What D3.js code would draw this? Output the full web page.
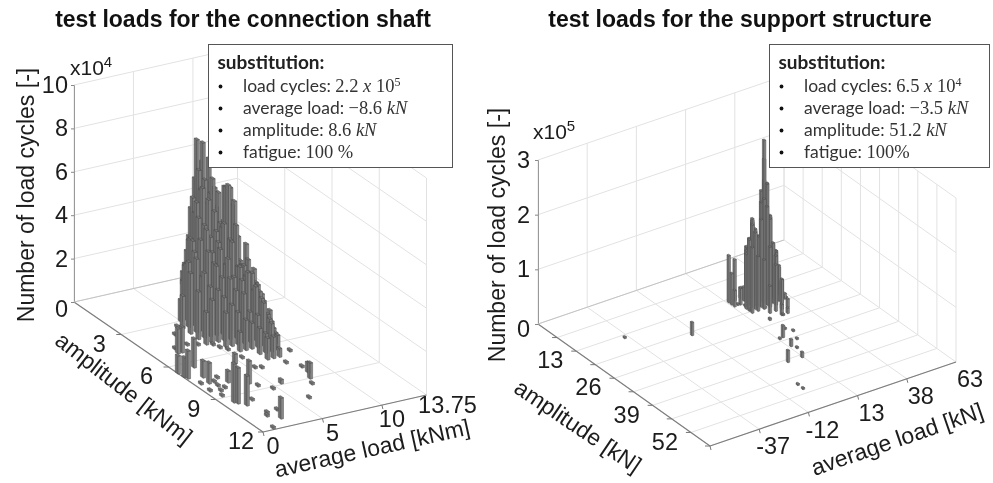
<!DOCTYPE html>
<html>
<head>
<meta charset="utf-8">
<script src="https://cdn.jsdelivr.net/npm/d3@7/dist/d3.min.js"></script>
<style>
    html, body { margin: 0; padding: 0; background: #fff; }
    svg { display: block; filter: blur(0.5px); }
    text { font-family: "Liberation Sans", Arial, sans-serif; fill: #1c1c1c; }
    .title { font-size: 23px; font-weight: bold; fill: #111; }
    .label { font-size: 23px; }
    .tick-label { font-size: 23.5px; }
    .legend-text { font-family: Lato, sans-serif; font-size: 17.5px; fill: #333; }
    .legend-head { font-family: Lato, sans-serif; font-size: 19px; font-weight: bold; fill: #222; }
    .math { font-family: "Liberation Serif", serif; font-size: 18.5px; }
</style>
</head>
<body>
<div id="chart"></div>
<script>
// connection shaft: cycles in x10^4, rows = amplitude [kNm], columns = average load [kNm]
const shaftAmplitudes = [0.5, 1, 1.5, 2, 2.5, 3, 3.5, 4, 4.5, 5, 5.5, 6, 6.5, 7];
const shaftLoads = [4.5, 5, 5.5, 6, 6.5, 7, 7.5, 8, 8.5, 9, 9.5, 10, 10.5];
const shaftCycles = [
    [0, 0, 0, 0, 0, 0, 0, 0, 0.6, 2.2, 4.8, 5.5, 4.5],
    [0, 0, 0, 0, 0, 0, 0, 1.3, 3.8, 6.9, 6.7, 5.9, 4.5],
    [0, 0, 0, 0, 0, 0, 2.2, 4.6, 5.8, 5.3, 4.6, 3.9, 3.2],
    [0, 0, 0, 0, 1.2, 3.0, 4.2, 5.2, 4.5, 5.6, 4.9, 5.1, 5.0],
    [0, 0, 0, 2.2, 3.4, 5.0, 5.6, 5.0, 4.4, 3.8, 5.4, 4.5, 3.0],
    [0, 1.0, 2.6, 3.6, 4.6, 4.2, 3.6, 3.8, 3.9, 5.8, 5.0, 2.2, 2.9],
    [1.5, 3.0, 3.4, 3.9, 4.3, 3.2, 3.6, 4.4, 3.6, 4.2, 2.3, 2.5, 2.0],
    [2.8, 3.4, 2.5, 3.6, 3.0, 3.6, 2.8, 3.8, 2.6, 2.6, 2.2, 1.7, 1.1],
    [2.2, 3.0, 2.3, 3.2, 2.6, 3.4, 2.5, 2.9, 2.4, 2.5, 1.9, 1.1, 0.6],
    [1.5, 2.0, 2.4, 2.0, 2.8, 2.2, 2.6, 2.9, 2.0, 1.9, 0.8, 0.4, 0],
    [0, 0, 1.6, 1.9, 1.5, 2.3, 1.4, 2.5, 1.9, 1.1, 0.4, 0, 0],
    [0, 0, 0, 0.9, 1.4, 1.2, 1.5, 2.0, 1.2, 0.5, 0, 0, 0],
    [0, 0, 0, 0, 0, 1.2, 0.9, 1.3, 0.7, 0, 0, 0, 0],
    [0, 0, 0, 0, 0, 1.0, 1.0, 0.4, 0, 0, 0, 0, 0]
];
// single bars away from the main block
const shaftSingleAmp = [5.17, 5.17, 6.56, 6.92, 7.07, 6.4, 7.24, 7.75, 7.98, 9.46, 9.59, 6.77, 9.87, 8.38, 8.99, 8.54, 11.31,
    3.88, 3.36, 4.85, 4.77, 4.94, 5.17, 5.48, 5.75, 6.53, 7.42, 7.53, 8.72, 9.61, 9.17, 8.88, 7.57, 6.79, 8.09, 9.43, 10.36, 10.74, 10.95, 10.69, 11.88, 7.69, 7.53, 7.76, 8.09, 8.32, 8.49, 8.34, 8.86];
const shaftSingleLoad = [1.89, 2.23, 0.05, 0.1, 0.22, 1.61, 1.26, 1.09, 2.38, 0.92, 1.08, 4.57, 1.46, 3.62, 7.94, 8.36, 2.42,
    3.35, 4.22, 2.07, 3.19, 3.88, 4.83, 5.01, 5.32, 5.48, 5.38, 5.82, 3.91, 2.24, 4.59, 5.64, 7.8, 9.15, 8.44, 7.52, 6.04, 2, 1.72, 2.9, 1, 0.49, 2.06, 1.5, 1.38, 0.41, 1.11, 1.64, 0.71];
const shaftSingleCycles = [1.15, 1.2, 0.83, 0.92, 1.29, 1.34, 0.78, 0.97, 0.55, 1.8, 1.66, 0.46, 1.38, 1.06, 0.74, 0.46, 0.97,
    0.1, 0.1, 0.1, 0.1, 0.1, 0.1, 0.1, 0.1, 0.1, 0.1, 0.1, 0.1, 0.1, 0.1, 0.2, 0.1, 0.1, 0.1, 0.1, 0.1, 0.1, 0.1, 0.1, 0.1, 0.1, 0.1, 0.1, 0.1, 0.1, 0.1, 0.1, 0.1];

// support structure: cycles in x10^5, rows = amplitude [kN], columns = average load [kN]
const supportAmplitudes = [12, 14, 15, 16, 17, 18, 19, 20, 22, 24];
const supportLoads = [14, 17, 20, 23, 26, 29, 32, 35, 38];
const supportCycles = [
    [0, 0, 0, 0, 0.8, 1.2, 0.9, 1.9, 1.2],
    [0.86, 0.75, 0.2, 0.9, 1.35, 1.0, 2.4, 1.3, 0.65],
    [0.57, 0, 0.25, 1.1, 1.2, 1.9, 2.0, 0.85, 0],
    [0.3, 0.3, 0.95, 1.5, 1.15, 2.86, 1.45, 0.77, 0.2],
    [0, 0, 1.2, 1.35, 1.8, 2.1, 0.95, 0.5, 0],
    [0, 1.0, 1.5, 1.25, 1.9, 1.5, 0.85, 0.3, 0],
    [0, 1.3, 1.4, 1.6, 1.8, 1.1, 0.65, 0.1, 0],
    [0, 1.2, 1.0, 0.9, 1.1, 0.9, 0.4, 0, 0],
    [0, 0, 0, 0.5, 0.85, 0.55, 0.15, 0, 0],
    [0, 0, 0, 0, 0.2, 0.1, 0, 0, 0]
];
const supportSingleAmp = [14.1, 20.6, 31.3, 30.5, 28.9, 31.6, 35.1, 33.5, 36.4, 39.9, 39.9, 48.4, 50.3, 24.3, 15.9, 17.1, 18.9, 18.4, 19.9, 24.2, 19];
const supportSingleLoad = [-39, -14.5, 15.7, 22.1, 20.3, 13.7, 14.2, 19.5, 15.2, 5.4, 12.6, -2.3, -2.5, 19.5, 15.8, 17.7, 17.5, 21.8, 23.6, 26.4, 35.6];
const supportSingleCycles = [0.03, 0.24, 0.22, 0.03, 0.03, 0.03, 0.13, 0.03, 0.03, 0.22, 0.1, 0.03, 0.03, 0.04, 0.03, 0.03, 0.03, 0.03, 0.03, 0.03, 0.03];

// tick labels
const shaftAmpTicks = [3, 6, 9, 12];
const shaftLoadTicks = [0, 5, 10, 13.75];
const shaftCycleTicks = [0, 2, 4, 6, 8, 10];
const supportAmpMinor = [6.5, 13, 19.5, 26, 32.5, 39, 45.5, 52, 58.5];
const supportAmpTicks = [13, 26, 39, 52];
const supportLoadTicks = [-37, -12, 13, 38, 63];
const supportCycleTicks = [0, 1, 2, 3];

// legend lines: [text, kind]  kind: "" plain, m math, i math italic, s superscript
const shaftLegend = [
    [["load cycles: ", ""], ["2.2 ", "m"], ["x", "i"], [" 10", "m"], ["5", "s"]],
    [["average load: ", ""], ["\u22128.6 ", "m"], ["kN", "i"]],
    [["amplitude: ", ""], ["8.6 ", "m"], ["kN", "i"]],
    [["fatigue: ", ""], ["100 %", "m"]]
];
const supportLegend = [
    [["load cycles: ", ""], ["6.5 ", "m"], ["x", "i"], [" 10", "m"], ["4", "s"]],
    [["average load: ", ""], ["\u22123.5 ", "m"], ["kN", "i"]],
    [["amplitude: ", ""], ["51.2 ", "m"], ["kN", "i"]],
    [["fatigue: ", ""], ["100%", "m"]]
];

const svg = d3.select("#chart").append("svg").attr("width", 993).attr("height", 483);

class BarVis {
    constructor(_svg, _config) {
        this.svg = _svg;
        this.cfg = _config;
        this.initVis();
    }

    initVis() {
        let vis = this;
        let c = vis.cfg;

        vis.g = vis.svg.append("g");

        // floor projection, one scale per screen direction
        vis.ampX = d3.scaleLinear().domain(c.ampDomain).range([0, c.front[0] - c.origin[0]]);
        vis.ampY = d3.scaleLinear().domain(c.ampDomain).range([0, c.front[1] - c.origin[1]]);
        vis.loadX = d3.scaleLinear().domain(c.loadDomain).range([0, c.back[0] - c.origin[0]]);
        vis.loadY = d3.scaleLinear().domain(c.loadDomain).range([0, c.back[1] - c.origin[1]]);
        vis.z = d3.scaleLinear().domain(c.zDomain).range([c.origin[1], c.origin[1] - c.zHeight]);

        vis.drawGrid();
        vis.drawAxes();
        vis.drawBars();
        vis.drawLegend();
    }

    project(a, l, zv) {
        let vis = this;
        return [
            vis.cfg.origin[0] + vis.ampX(a) + vis.loadX(l),
            vis.z(zv || 0) + vis.ampY(a) + vis.loadY(l)
        ];
    }

    drawGrid() {
        let vis = this;
        let c = vis.cfg;
        let [a0, a1] = c.ampDomain;
        let [l0, l1] = c.loadDomain;
        let [z0, z1] = c.zDomain;
        let segs = [];

        // floor
        c.ampGrid.forEach(a => segs.push([vis.project(a, l0), vis.project(a, l1)]));
        c.loadGrid.forEach(l => segs.push([vis.project(a0, l), vis.project(a1, l)]));
        // left wall (a = a0) and right wall (l = l1)
        c.loadGrid.concat([l1]).forEach(l => segs.push([vis.project(a0, l, z0), vis.project(a0, l, z1)]));
        c.ampGrid.concat([a0]).forEach(a => segs.push([vis.project(a, l1, z0), vis.project(a, l1, z1)]));
        c.zTicks.forEach(t => {
            segs.push([vis.project(a0, l0, t), vis.project(a0, l1, t)]);
            segs.push([vis.project(a0, l1, t), vis.project(a1, l1, t)]);
        });

        vis.g.append("g").selectAll("line").data(segs).join("line")
            .attr("x1", d => d[0][0]).attr("y1", d => d[0][1])
            .attr("x2", d => d[1][0]).attr("y2", d => d[1][1])
            .attr("stroke", "#e2e2e2").attr("stroke-width", 1);
    }

    drawBars() {
        let vis = this;
        let c = vis.cfg;
        let bars = [];

        c.rows.forEach((a, i) => c.cols.forEach((l, j) => {
            if (c.cycles[i][j] > 0) bars.push({a: a, l: l, v: c.cycles[i][j]});
        }));
        c.singleAmp.forEach((a, i) => bars.push({a: a, l: c.singleLoad[i], v: c.singleCycles[i]}));

        // back to front
        bars.sort((p, q) => (p.a - p.l * c.depthRatio) - (q.a - q.l * c.depthRatio));

        let poly = pts => "M" + pts.map(p => p.join(",")).join("L") + "Z";
        let wa = c.barHalf[0], wl = c.barHalf[1];

        let groups = vis.g.append("g").selectAll("g").data(bars).join("g")
            .attr("stroke", "#484848").attr("stroke-width", 0.45);

        // face on the low-load side
        groups.append("path").attr("fill", "#6f6f6f").attr("d", d => poly([
            vis.project(d.a - wa, d.l - wl, 0), vis.project(d.a + wa, d.l - wl, 0),
            vis.project(d.a + wa, d.l - wl, d.v), vis.project(d.a - wa, d.l - wl, d.v)]));
        // face on the high-amplitude side
        groups.append("path").attr("fill", "#878787").attr("d", d => poly([
            vis.project(d.a + wa, d.l - wl, 0), vis.project(d.a + wa, d.l + wl, 0),
            vis.project(d.a + wa, d.l + wl, d.v), vis.project(d.a + wa, d.l - wl, d.v)]));
        // top
        groups.append("path").attr("fill", "#777").attr("d", d => poly([
            vis.project(d.a - wa, d.l - wl, d.v), vis.project(d.a + wa, d.l - wl, d.v),
            vis.project(d.a + wa, d.l + wl, d.v), vis.project(d.a - wa, d.l + wl, d.v)]));
    }

    drawAxes() {
        let vis = this;
        let c = vis.cfg;
        let [a0, a1] = c.ampDomain;
        let [l0, l1] = c.loadDomain;

        // cycles axis
        let zAxis = d3.axisLeft(vis.z).tickValues(c.zTicks).tickSize(3).tickPadding(c.zPad).tickFormat(d3.format("d"));
        let zg = vis.g.append("g").attr("transform", `translate(${c.origin[0]},0)`).call(zAxis);
        zg.select(".domain").attr("stroke", "#999");
        zg.selectAll(".tick line").attr("stroke", "#888");
        zg.selectAll(".tick text")
            .attr("class", "tick-label")
            .attr("dy", d => d === 0 ? c.zeroShift : "0.32em");

        // the two floor axes
        let axes = [
            [vis.project(a0, l0), vis.project(a1, l0)],
            [vis.project(a1, l0), vis.project(a1, l1)]
        ];
        vis.g.append("g").selectAll("line").data(axes).join("line")
            .attr("x1", d => d[0][0]).attr("y1", d => d[0][1])
            .attr("x2", d => d[1][0]).attr("y2", d => d[1][1])
            .attr("stroke", "#7d7d7d").attr("stroke-width", 1.2);
        vis.g.append("line")
            .datum([vis.project(a0, l0), vis.project(a0, l1)])
            .attr("x1", d => d[0][0]).attr("y1", d => d[0][1])
            .attr("x2", d => d[1][0]).attr("y2", d => d[1][1])
            .attr("stroke", "#c4c4c4");

        // tick marks
        let marks = c.ampGrid.map(a => [vis.project(a, l0), -5, 0])
            .concat(c.loadGrid.map(l => [vis.project(a1, l), 1, 4]));
        vis.g.append("g").selectAll("line").data(marks).join("line")
            .attr("x1", d => d[0][0]).attr("y1", d => d[0][1])
            .attr("x2", d => d[0][0] + d[1]).attr("y2", d => d[0][1] + d[2])
            .attr("stroke", "#777");

        // tick labels
        let ampLabels = c.ampTicks.map(a => {
            let p = vis.project(a, l0);
            return {t: a, x: p[0] + c.ampOffset[0], y: p[1] + c.ampOffset[1]};
        });
        let loadLabels = c.loadTicks.map(l => {
            let p = vis.project(a1, l);
            let off = l === 13.75 ? [21, 10] : c.loadOffset;
            return {t: l, x: p[0] + off[0], y: p[1] + off[1]};
        });
        vis.g.append("g").selectAll("text").data(ampLabels.concat(loadLabels)).join("text")
            .attr("class", "tick-label")
            .attr("text-anchor", "middle")
            .attr("dy", "0.35em")
            .attr("x", d => d.x).attr("y", d => d.y)
            .text(d => d.t);

        // axis labels
        c.labels.forEach(d => {
            vis.g.append("text")
                .attr("class", "label")
                .attr("text-anchor", "middle")
                .attr("dy", "0.35em")
                .attr("transform", `translate(${d.x},${d.y}) rotate(${d.angle})`)
                .text(d.text);
        });

        // exponent
        let exp = vis.g.append("text").attr("class", "label")
            .attr("x", c.exp[0]).attr("y", c.exp[1]).style("font-size", "21px");
        exp.append("tspan").text("x10");
        exp.append("tspan").attr("dy", -8).style("font-size", "15px").text(c.expText);

        // title
        vis.g.append("text").attr("class", "title")
            .attr("text-anchor", "middle")
            .attr("x", c.titleX).attr("y", 27)
            .text(c.title);
    }

    drawLegend() {
        let vis = this;
        let c = vis.cfg;
        let b = c.box;
        let lg = vis.g.append("g");

        lg.append("rect")
            .attr("x", b[0]).attr("y", b[1]).attr("width", b[2]).attr("height", b[3])
            .attr("fill", "#fff").attr("stroke", "#555").attr("stroke-width", 1);

        lg.append("text").attr("class", "legend-head")
            .attr("x", b[0] + 9).attr("y", b[1] + 24)
            .text("substitution:");

        c.legend.forEach((line, i) => {
            let y = b[1] + 47 + i * 22;
            lg.append("circle").attr("cx", b[0] + 12).attr("cy", y - 5).attr("r", 1.9).attr("fill", "#111");
            let t = lg.append("text").attr("class", "legend-text").attr("x", b[0] + c.legendIndent).attr("y", y);
            line.forEach(seg => {
                let s = t.append("tspan").text(seg[0]);
                if (seg[1] === "m" || seg[1] === "i" || seg[1] === "s") s.attr("class", "math");
                if (seg[1] === "i") s.style("font-style", "italic");
                if (seg[1] === "s") s.attr("dy", -6).style("font-size", "12px");
            });
        });
    }
}

new BarVis(svg, {
    title: "test loads for the connection shaft", titleX: 243,
    origin: [74, 302], front: [263, 432], back: [237.5, 265],
    ampDomain: [0, 12], loadDomain: [0, 13.75], zDomain: [0, 10], zHeight: 217,
    ampGrid: [3, 6, 9, 12], loadGrid: [0, 5, 10],
    ampTicks: shaftAmpTicks, loadTicks: shaftLoadTicks, zTicks: shaftCycleTicks,
    rows: shaftAmplitudes, cols: shaftLoads, cycles: shaftCycles,
    singleAmp: shaftSingleAmp, singleLoad: shaftSingleLoad, singleCycles: shaftSingleCycles,
    barHalf: [0.09, 0.1], depthRatio: 0.6,
    ampOffset: [-22, 9], loadOffset: [10, 14], zPad: 3, zeroShift: "0.62em",
    labels: [
        {text: "amplitude [kNm]", x: 124, y: 388, angle: 38},
        {text: "average load [kNm]", x: 372, y: 448, angle: -12.5},
        {text: "Number of load cycles [-]", x: 26, y: 195, angle: -90}
    ],
    exp: [70, 75], expText: "4",
    box: [208.5, 44.5, 244, 123], legendIndent: 34.5, legend: shaftLegend
});

new BarVis(svg, {
    title: "test loads for the support structure", titleX: 740,
    origin: [538, 324], front: [710, 446], back: [784, 240],
    ampDomain: [0, 58.5], loadDomain: [-62, 63], zDomain: [0, 3], zHeight: 164,
    ampGrid: supportAmpMinor, loadGrid: [-62, -37, -12, 13, 38],
    ampTicks: supportAmpTicks, loadTicks: supportLoadTicks, zTicks: supportCycleTicks,
    rows: supportAmplitudes, cols: supportLoads, cycles: supportCycles,
    singleAmp: supportSingleAmp, singleLoad: supportSingleLoad, singleCycles: supportSingleCycles,
    barHalf: [0.3, 0.45], depthRatio: 0.2,
    ampOffset: [-26, 9], loadOffset: [14, 17], zPad: 5, zeroShift: "0.55em",
    labels: [
        {text: "amplitude [kN]", x: 578, y: 426, angle: 34},
        {text: "average load [kN]", x: 897, y: 439, angle: -19},
        {text: "Number of load cycles [-]", x: 497, y: 235, angle: -90}
    ],
    exp: [533, 139], expText: "5",
    box: [769.5, 44.5, 220, 123], legendIndent: 34.5, legend: supportLegend
});
</script>
</body>
</html>
